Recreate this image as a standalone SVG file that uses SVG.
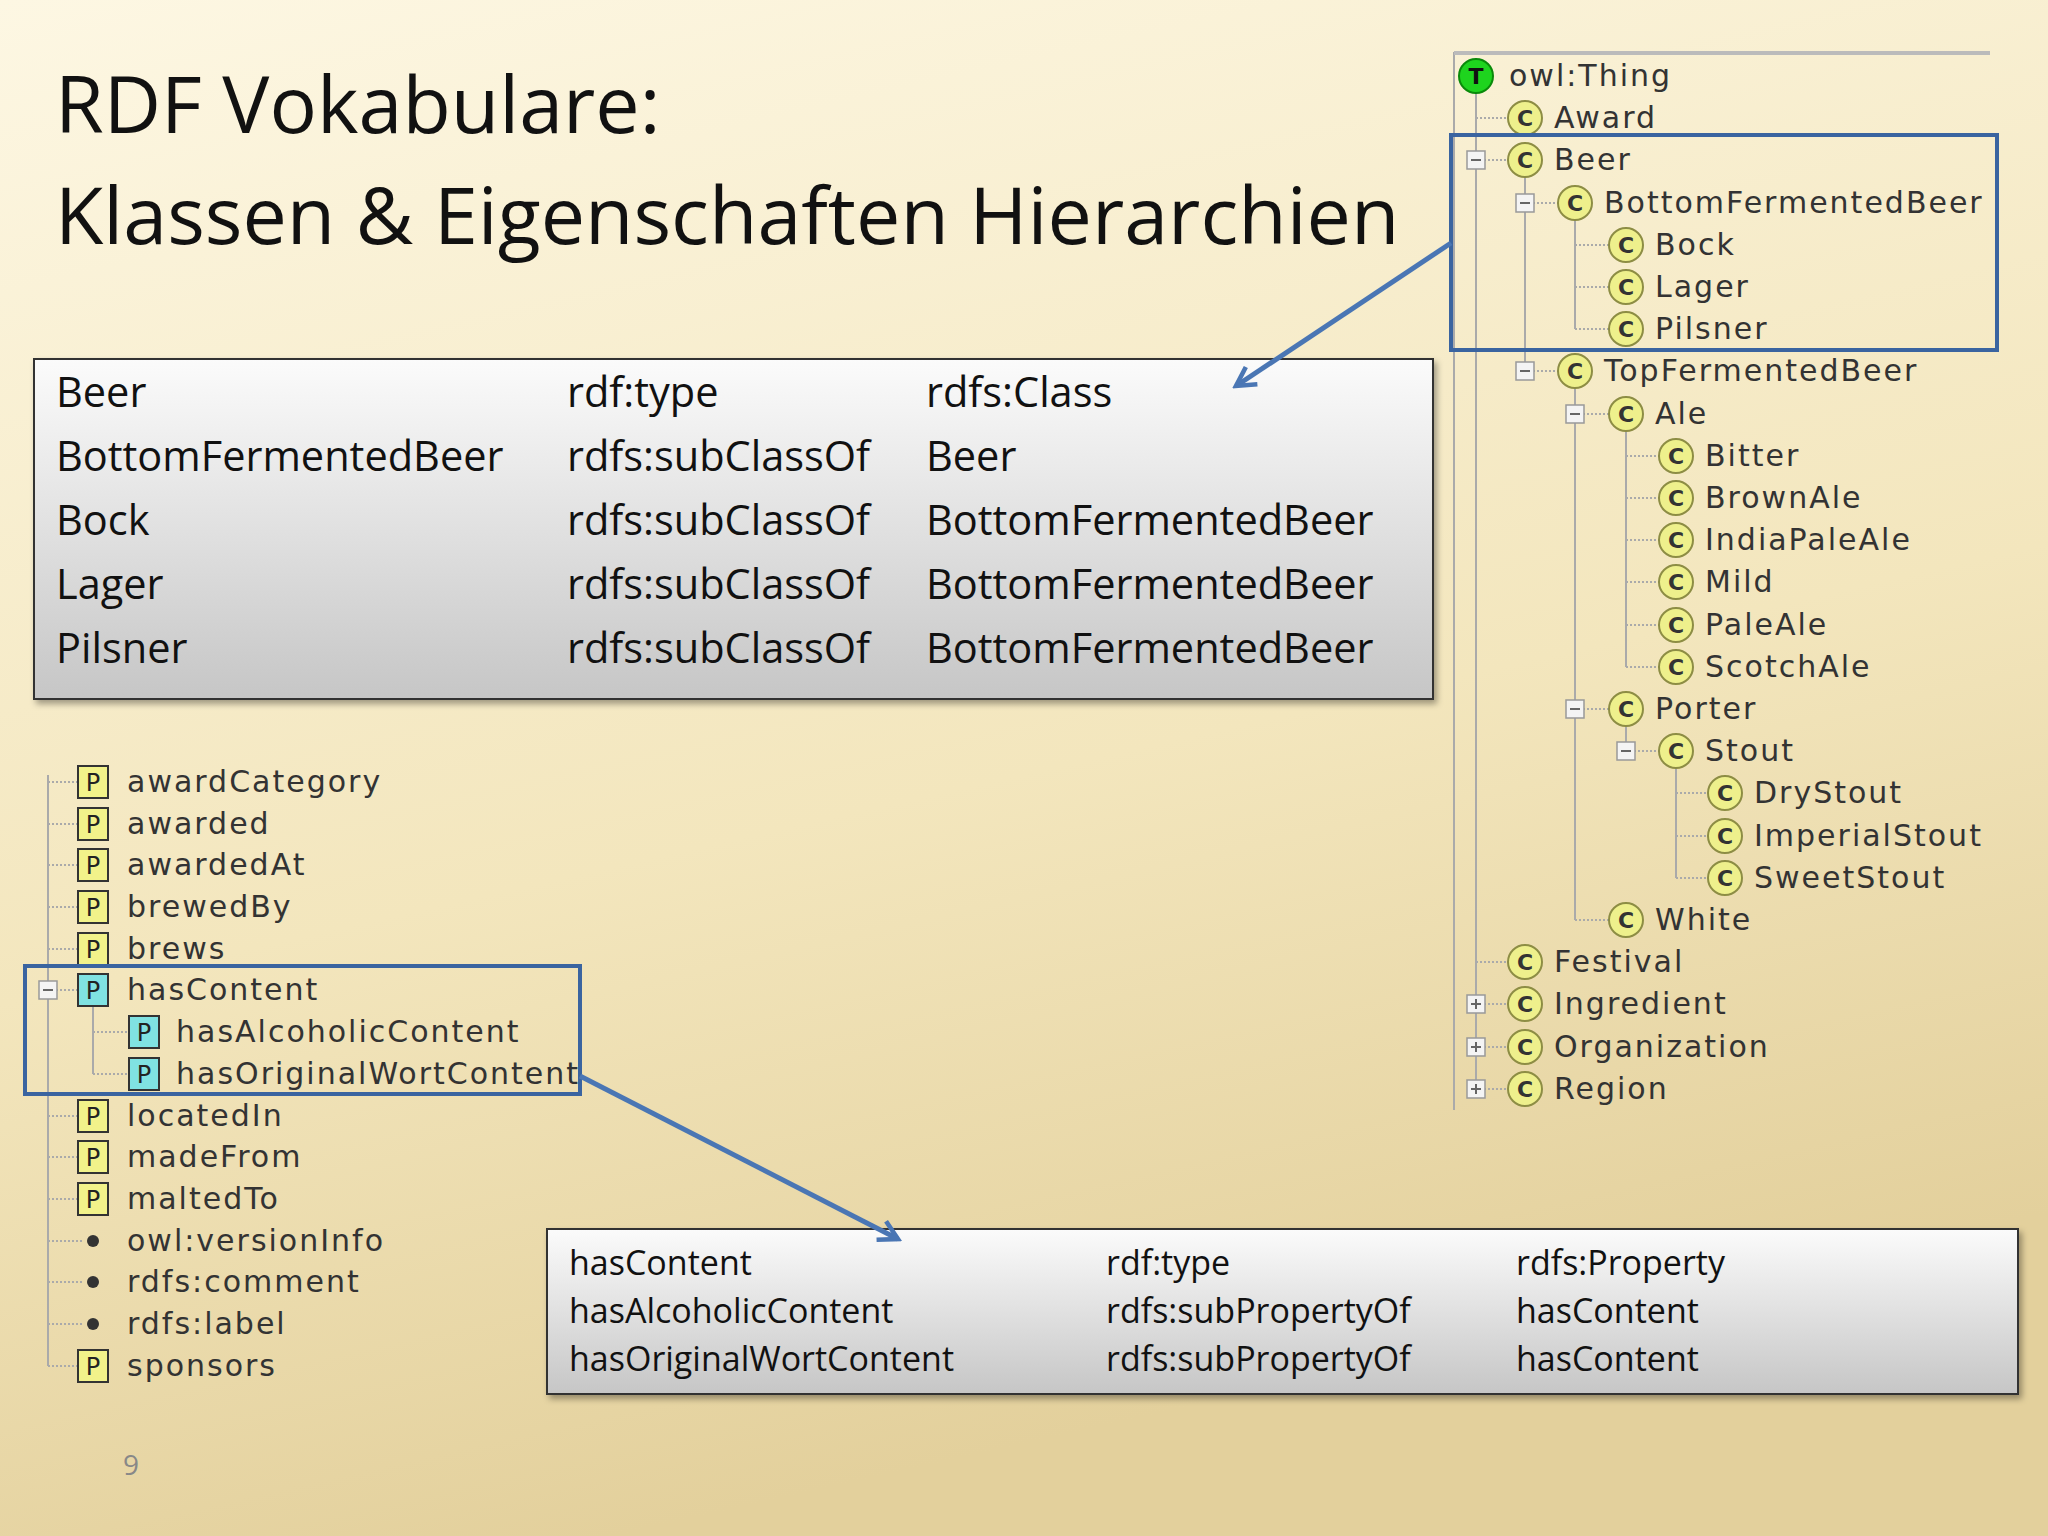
<svg xmlns="http://www.w3.org/2000/svg" xmlns:xlink="http://www.w3.org/1999/xlink" width="2048" height="1536" viewBox="0 0 2048 1536">
<defs>
<linearGradient id="bg" x1="0" y1="0" x2="0.3" y2="1"><stop offset="0" stop-color="#fdf7e3"/><stop offset="0.6" stop-color="#f3e6bd"/><stop offset="1" stop-color="#e3d09c"/></linearGradient>
<linearGradient id="tb" x1="0" y1="0" x2="0" y2="1"><stop offset="0" stop-color="#fbfbfb"/><stop offset="1" stop-color="#c6c6c6"/></linearGradient>
<filter id="sh" x="-5%" y="-5%" width="110%" height="120%"><feDropShadow dx="3" dy="4" stdDeviation="3" flood-color="#000" flood-opacity="0.35"/></filter>
<marker id="ah" viewBox="0 0 12 12" refX="10" refY="6" markerWidth="5" markerHeight="5" orient="auto"><path d="M1,1 L10,6 L1,11" fill="none" stroke="#4a76b4" stroke-width="2.2"/></marker>
<g id="ci"><circle r="17" fill="#eef08c" stroke="#8d8d44" stroke-width="2"/><text y="8" text-anchor="middle" font-family="DejaVu Sans, sans-serif" font-weight="bold" font-size="22" fill="#333">C</text></g>
<g id="py"><rect x="-15" y="-16" width="30" height="32" fill="#f2f28a" stroke="#333" stroke-width="2"/><text y="9" text-anchor="middle" font-family="DejaVu Sans, sans-serif" font-size="24" fill="#222">P</text></g>
<g id="pc"><rect x="-15" y="-16" width="30" height="32" fill="#80e2e2" stroke="#333" stroke-width="2"/><text y="9" text-anchor="middle" font-family="DejaVu Sans, sans-serif" font-size="24" fill="#222">P</text></g>
<g id="mi"><rect x="-9" y="-9" width="18" height="18" fill="#f4f4f4" stroke="#999" stroke-width="1.5"/><line x1="-5" y1="0" x2="5" y2="0" stroke="#666" stroke-width="2"/></g>
<g id="pl"><rect x="-9" y="-9" width="18" height="18" fill="#f4f4f4" stroke="#999" stroke-width="1.5"/><line x1="-5" y1="0" x2="5" y2="0" stroke="#666" stroke-width="2"/><line x1="0" y1="-5" x2="0" y2="5" stroke="#666" stroke-width="2"/></g>
</defs>
<style>
.t{font-family:"Open Sans","Noto Sans",sans-serif;fill:#111}
.tr{font-family:"DejaVu Sans",Verdana,sans-serif;font-size:30px;letter-spacing:2px;fill:#333}
.ln{stroke:#aaa;stroke-width:2;fill:none}
.dl{stroke:#aaa;stroke-width:2;stroke-dasharray:2 2;fill:none}
.box{fill:none;stroke:#3a64a0;stroke-width:4}
.ar{stroke:#4a76b4;stroke-width:5;fill:none}
</style>
<rect width="2048" height="1536" fill="url(#bg)"/>
<g id="title"><text class="t" x="55" y="133" font-size="79">RDF Vokabulare:</text><text class="t" x="55" y="244" font-size="79">Klassen &amp; Eigenschaften Hierarchien</text></g>

<g id="table1"><rect x="34" y="359" width="1399" height="340" fill="url(#tb)" stroke="#333" stroke-width="2" filter="url(#sh)"/>
<g class="t" font-size="41.5">
<text x="56" y="407">Beer</text><text x="567" y="407">rdf:type</text><text x="926" y="407">rdfs:Class</text>
<text x="56" y="471">BottomFermentedBeer</text><text x="567" y="471">rdfs:subClassOf</text><text x="926" y="471">Beer</text>
<text x="56" y="535">Bock</text><text x="567" y="535">rdfs:subClassOf</text><text x="926" y="535">BottomFermentedBeer</text>
<text x="56" y="599">Lager</text><text x="567" y="599">rdfs:subClassOf</text><text x="926" y="599">BottomFermentedBeer</text>
<text x="56" y="663">Pilsner</text><text x="567" y="663">rdfs:subClassOf</text><text x="926" y="663">BottomFermentedBeer</text>
</g></g>

<g id="classtree">
<line class="ln" x1="1454" y1="52" x2="1454" y2="1110"/><line x1="1454" y1="53" x2="1990" y2="53" stroke="#bbb" stroke-width="4"/>
<line class="ln" x1="1476" y1="76" x2="1476" y2="1089"/>
<line class="ln" x1="1525" y1="160" x2="1525" y2="371"/>
<line class="ln" x1="1575" y1="203" x2="1575" y2="329"/>
<line class="ln" x1="1575" y1="371" x2="1575" y2="920"/>
<line class="ln" x1="1626" y1="414" x2="1626" y2="667"/>
<line class="ln" x1="1626" y1="709" x2="1626" y2="751"/>
<line class="ln" x1="1676" y1="751" x2="1676" y2="878"/>
<path class="dl" d="M1476 118h34M1476 160h34M1476 962h34M1476 1004h34M1476 1047h34M1476 1089h34M1525 203h35M1525 371h35M1575 245h36M1575 287h36M1575 329h36M1575 414h36M1575 709h36M1575 920h36M1626 456h35M1626 498h35M1626 540h35M1626 582h35M1626 625h35M1626 667h35M1626 751h35M1676 793h34M1676 836h34M1676 878h34"/>
<use href="#mi" x="1476" y="160"/><use href="#mi" x="1525" y="203"/><use href="#mi" x="1525" y="371"/><use href="#mi" x="1575" y="414"/><use href="#mi" x="1575" y="709"/><use href="#mi" x="1626" y="751"/>
<use href="#pl" x="1476" y="1004"/><use href="#pl" x="1476" y="1047"/><use href="#pl" x="1476" y="1089"/>
<circle cx="1476" cy="76" r="17" fill="#1ed41e" stroke="#0a8a0a" stroke-width="2"/><text x="1476" y="84" text-anchor="middle" font-family="DejaVu Sans, sans-serif" font-weight="bold" font-size="22" fill="#111">T</text>
<text class="tr" x="1509" y="86">owl:Thing</text>
<use href="#ci" x="1525" y="118"/><text class="tr" x="1554" y="128">Award</text>
<use href="#ci" x="1525" y="160"/><text class="tr" x="1554" y="170">Beer</text>
<use href="#ci" x="1575" y="203"/><text class="tr" x="1604" y="213">BottomFermentedBeer</text>
<use href="#ci" x="1626" y="245"/><text class="tr" x="1655" y="255">Bock</text>
<use href="#ci" x="1626" y="287"/><text class="tr" x="1655" y="297">Lager</text>
<use href="#ci" x="1626" y="329"/><text class="tr" x="1655" y="339">Pilsner</text>
<use href="#ci" x="1575" y="371"/><text class="tr" x="1604" y="381">TopFermentedBeer</text>
<use href="#ci" x="1626" y="414"/><text class="tr" x="1655" y="424">Ale</text>
<use href="#ci" x="1676" y="456"/><text class="tr" x="1705" y="466">Bitter</text>
<use href="#ci" x="1676" y="498"/><text class="tr" x="1705" y="508">BrownAle</text>
<use href="#ci" x="1676" y="540"/><text class="tr" x="1705" y="550">IndiaPaleAle</text>
<use href="#ci" x="1676" y="582"/><text class="tr" x="1705" y="592">Mild</text>
<use href="#ci" x="1676" y="625"/><text class="tr" x="1705" y="635">PaleAle</text>
<use href="#ci" x="1676" y="667"/><text class="tr" x="1705" y="677">ScotchAle</text>
<use href="#ci" x="1626" y="709"/><text class="tr" x="1655" y="719">Porter</text>
<use href="#ci" x="1676" y="751"/><text class="tr" x="1705" y="761">Stout</text>
<use href="#ci" x="1725" y="793"/><text class="tr" x="1754" y="803">DryStout</text>
<use href="#ci" x="1725" y="836"/><text class="tr" x="1754" y="846">ImperialStout</text>
<use href="#ci" x="1725" y="878"/><text class="tr" x="1754" y="888">SweetStout</text>
<use href="#ci" x="1626" y="920"/><text class="tr" x="1655" y="930">White</text>
<use href="#ci" x="1525" y="962"/><text class="tr" x="1554" y="972">Festival</text>
<use href="#ci" x="1525" y="1004"/><text class="tr" x="1554" y="1014">Ingredient</text>
<use href="#ci" x="1525" y="1047"/><text class="tr" x="1554" y="1057">Organization</text>
<use href="#ci" x="1525" y="1089"/><text class="tr" x="1554" y="1099">Region</text>
</g>
<rect id="box1" class="box" x="1451" y="135" width="546" height="215"/>

<g id="proptree">
<line class="ln" x1="48" y1="775" x2="48" y2="1366"/>
<line class="ln" x1="93" y1="1006" x2="93" y2="1074"/>
<path class="dl" d="M48 782h30M48 824h30M48 865h30M48 907h30M48 949h30M48 990h30M48 1116h30M48 1157h30M48 1199h30M48 1241h36M48 1282h36M48 1324h36M48 1366h30M93 1032h36M93 1074h36"/>
<use href="#mi" x="48" y="990"/>
<use href="#py" x="93" y="782"/><text class="tr" x="127" y="792">awardCategory</text>
<use href="#py" x="93" y="824"/><text class="tr" x="127" y="834">awarded</text>
<use href="#py" x="93" y="865"/><text class="tr" x="127" y="875">awardedAt</text>
<use href="#py" x="93" y="907"/><text class="tr" x="127" y="917">brewedBy</text>
<use href="#py" x="93" y="949"/><text class="tr" x="127" y="959">brews</text>
<use href="#pc" x="93" y="990"/><text class="tr" x="127" y="1000">hasContent</text>
<use href="#pc" x="144" y="1032"/><text class="tr" x="176" y="1042">hasAlcoholicContent</text>
<use href="#pc" x="144" y="1074"/><text class="tr" x="176" y="1084">hasOriginalWortContent</text>
<use href="#py" x="93" y="1116"/><text class="tr" x="127" y="1126">locatedIn</text>
<use href="#py" x="93" y="1157"/><text class="tr" x="127" y="1167">madeFrom</text>
<use href="#py" x="93" y="1199"/><text class="tr" x="127" y="1209">maltedTo</text>
<circle cx="93" cy="1241" r="6" fill="#333"/><text class="tr" x="127" y="1251">owl:versionInfo</text>
<circle cx="93" cy="1282" r="6" fill="#333"/><text class="tr" x="127" y="1292">rdfs:comment</text>
<circle cx="93" cy="1324" r="6" fill="#333"/><text class="tr" x="127" y="1334">rdfs:label</text>
<use href="#py" x="93" y="1366"/><text class="tr" x="127" y="1376">sponsors</text>
</g>
<rect id="box2" class="box" x="25" y="966" width="555" height="128"/>

<g id="table2"><rect x="547" y="1229" width="1471" height="165" fill="url(#tb)" stroke="#333" stroke-width="2" filter="url(#sh)"/>
<g class="t" font-size="34">
<text x="569" y="1275">hasContent</text><text x="1106" y="1275">rdf:type</text><text x="1516" y="1275">rdfs:Property</text>
<text x="569" y="1323">hasAlcoholicContent</text><text x="1106" y="1323">rdfs:subPropertyOf</text><text x="1516" y="1323">hasContent</text>
<text x="569" y="1371">hasOriginalWortContent</text><text x="1106" y="1371">rdfs:subPropertyOf</text><text x="1516" y="1371">hasContent</text>
</g></g>

<g id="connectors">
<line class="ar" x1="1451" y1="243" x2="1236" y2="386" marker-end="url(#ah)"/>
<line class="ar" x1="580" y1="1076" x2="898" y2="1239" marker-end="url(#ah)"/>
</g>
<text x="123" y="1475" font-family="Open Sans, sans-serif" font-size="28" fill="#888">9</text>
</svg>
